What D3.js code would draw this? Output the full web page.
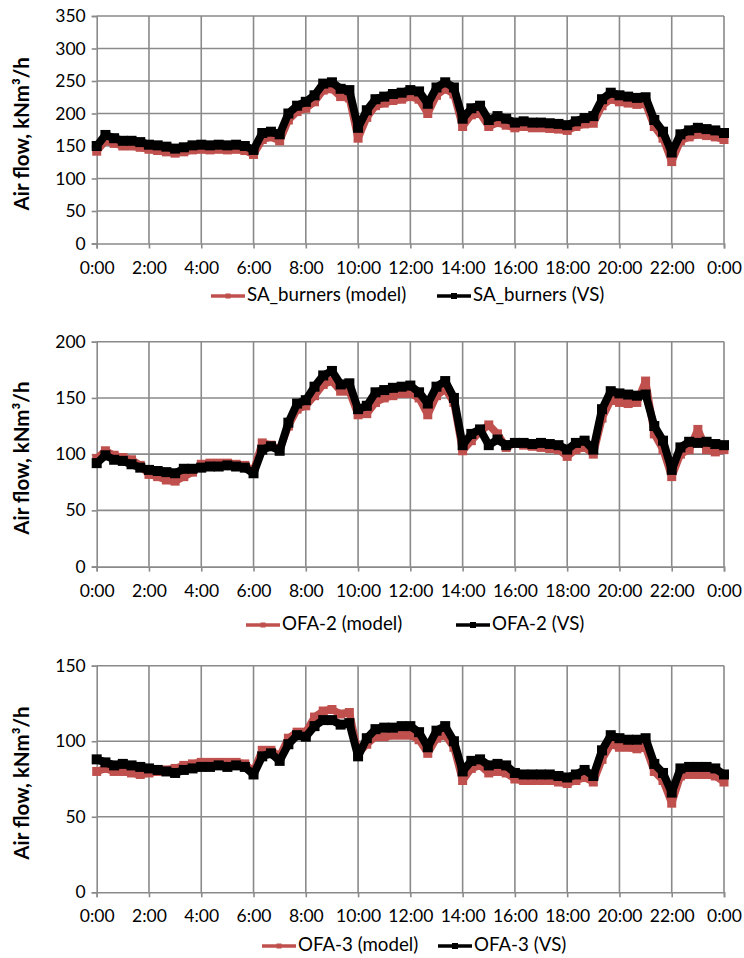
<!DOCTYPE html>
<html><head><meta charset="utf-8">
<script src="https://cdn.jsdelivr.net/npm/d3@7/dist/d3.min.js"></script>
<style>
html,body{margin:0;padding:0;background:#fff;}
svg{display:block;font-family:Lato,"Open Sans",sans-serif;}
</style></head>
<body>
<svg id="chart" width="744" height="958"></svg>
<script>
// ---- DATA ----
const stepMinutes = 20; // sampling interval of the series
const xTickLabels = ["0:00","2:00","4:00","6:00","8:00","10:00","12:00","14:00","16:00","18:00","20:00","22:00","0:00"];

const saModel = [142,158,154,150,150,148,145,143,141,139,141,144,145,144,145,144,145,143,137,160,164,158,190,203,208,218,236,238,226,224,162,194,212,216,220,222,226,222,200,228,238,230,180,198,200,180,186,182,178,180,178,178,177,176,174,180,184,185,212,222,218,216,214,215,180,162,126,158,164,168,166,164,160];
const saVS    = [150,167,162,158,158,156,152,151,149,146,148,151,152,151,152,151,152,150,144,170,172,168,200,212,218,228,246,248,238,236,178,205,222,226,230,232,236,234,215,240,248,240,192,208,212,190,196,192,186,188,186,186,185,184,182,188,193,196,222,232,228,226,224,225,190,172,140,168,174,178,176,174,170];

const ofa2Model = [96,103,99,97,95,90,82,80,77,76,80,84,91,92,92,92,91,90,85,110,108,104,125,140,143,152,162,165,156,156,135,136,146,150,152,154,154,150,135,152,158,146,103,112,120,126,118,106,110,108,107,106,105,104,98,104,106,100,132,148,146,145,146,165,118,104,80,100,104,122,104,102,104];
const ofa2VS    = [92,99,95,94,91,88,86,85,84,83,87,87,88,89,89,90,89,88,83,104,107,103,128,145,148,160,170,174,162,163,140,143,155,157,159,160,161,155,145,160,165,150,108,118,122,108,113,108,110,110,109,110,109,108,104,110,112,104,140,156,154,153,152,153,125,112,86,106,111,110,111,109,108];

const ofa3Model = [80,82,80,80,79,78,79,80,81,82,84,85,86,86,86,86,86,85,80,94,94,90,102,106,106,116,120,121,118,119,92,98,103,103,104,104,104,101,92,102,104,96,74,82,84,79,80,79,75,74,74,74,74,73,72,74,76,73,88,98,96,96,95,96,80,74,59,77,78,78,78,77,73];
const ofa3VS    = [88,86,84,85,84,83,82,81,80,79,81,82,83,83,84,83,84,83,78,90,92,87,98,104,103,110,114,114,111,112,90,102,108,109,109,110,110,106,96,107,110,100,80,87,88,84,85,84,79,78,78,78,78,77,76,78,81,77,94,104,102,101,101,102,85,79,66,82,83,83,83,82,78];

const charts = [
  {names:["SA_burners (model)","SA_burners (VS)"], model:saModel, vs:saVS, yMax:350, yStep:50,
   top:16, bottom:243.5, xLabelY:270, legendY:296, legendX:[211,437]},
  {names:["OFA-2 (model)","OFA-2 (VS)"], model:ofa2Model, vs:ofa2VS, yMax:200, yStep:50,
   top:341.7, bottom:566.6, xLabelY:593, legendY:625, legendX:[246,456]},
  {names:["OFA-3 (model)","OFA-3 (VS)"], model:ofa3Model, vs:ofa3VS, yMax:150, yStep:50,
   top:665.7, bottom:892.3, xLabelY:918, legendY:946, legendX:[262,438]}
];

const RED = "#c0504d", BLACK = "#000", GRID = "#8a8a8a";
const left = 96.7, right = 724;
const svg = d3.select("#chart");

charts.forEach(c => {
  const g = svg.append("g");
  const x = d3.scaleLinear().domain([0, 24*60]).range([left, right]);
  const y = d3.scaleLinear().domain([0, c.yMax]).range([c.bottom, c.top]);
  const yTicks = d3.range(0, c.yMax + 0.001, c.yStep);
  const xTicks = xTickLabels.map((d,i) => i*120);

  g.append("g").selectAll("line").data(yTicks.slice(1)).join("line")
    .attr("x1", left).attr("x2", right).attr("y1", d=>y(d)).attr("y2", d=>y(d))
    .attr("stroke", GRID).attr("stroke-width", 1.6);
  g.append("g").selectAll("line").data(xTicks.slice(1)).join("line")
    .attr("x1", d=>x(d)).attr("x2", d=>x(d)).attr("y1", c.top).attr("y2", c.bottom)
    .attr("stroke", GRID).attr("stroke-width", 1.6);

  const yAxis = d3.axisLeft(y).tickValues(yTicks).tickSize(5).tickPadding(6).tickFormat(d3.format("d"));
  const ya = g.append("g").attr("transform", `translate(${left},0)`).call(yAxis);
  const xAxis = d3.axisBottom(x).tickValues(xTicks).tickSize(5).tickPadding(0).tickFormat((d,i)=>xTickLabels[i]);
  const xa = g.append("g").attr("transform", `translate(0,${c.bottom})`).call(xAxis);
  [ya, xa].forEach(a => {
    a.select(".domain").attr("stroke", GRID).attr("stroke-width", 1.6);
    a.selectAll(".tick line").attr("stroke", GRID).attr("stroke-width", 1.6);
    a.selectAll("text").attr("fill", "#000").style("font-size", "17.5px").style("font-family", "Lato, sans-serif");
  });
  xa.selectAll("text").attr("y", null).attr("dy", null)
    .attr("transform", `translate(0,${c.xLabelY - c.bottom})`).attr("dominant-baseline", "middle");

  g.append("text")
    .attr("transform", `translate(24,${(c.top + c.bottom)/2 + 4}) rotate(-90)`)
    .attr("text-anchor", "middle").attr("dominant-baseline", "middle")
    .style("font-size", "20.5px").style("font-weight", "bold").text("Air flow, kNm³/h");

  const line = d3.line().x((d,i)=>x(i*stepMinutes)).y(d=>y(d));
  const drawSeries = (vals, col, w, ms) => {
    g.append("path").datum(vals).attr("d", line).attr("fill", "none")
      .attr("stroke", col).attr("stroke-width", w).attr("stroke-linejoin", "round");
    g.append("g").selectAll("rect").data(vals).join("rect")
      .attr("fill", col)
      .attr("x", (d,i)=>x(i*stepMinutes)-ms/2).attr("y", d=>y(d)-ms/2).attr("width", ms).attr("height", ms);
  };
  drawSeries(c.model, RED, 7.5, 9);
  drawSeries(c.vs, BLACK, 8, 10);

  const lg = g.append("g");
  [[RED, c.names[0], c.legendX[0], 5],[BLACK, c.names[1], c.legendX[1], 6]].forEach(([col, name, lx, ms]) => {
    lg.append("line").attr("x1", lx).attr("x2", lx+34).attr("y1", c.legendY).attr("y2", c.legendY)
      .attr("stroke", col).attr("stroke-width", 3.5);
    lg.append("rect").attr("x", lx+17-ms/2).attr("y", c.legendY-ms/2).attr("width", ms).attr("height", ms).attr("fill", col);
    lg.append("text").attr("x", lx+36).attr("y", c.legendY).attr("dominant-baseline", "middle")
      .style("font-size", "18.7px").text(name);
  });
});
</script>
</body></html>
